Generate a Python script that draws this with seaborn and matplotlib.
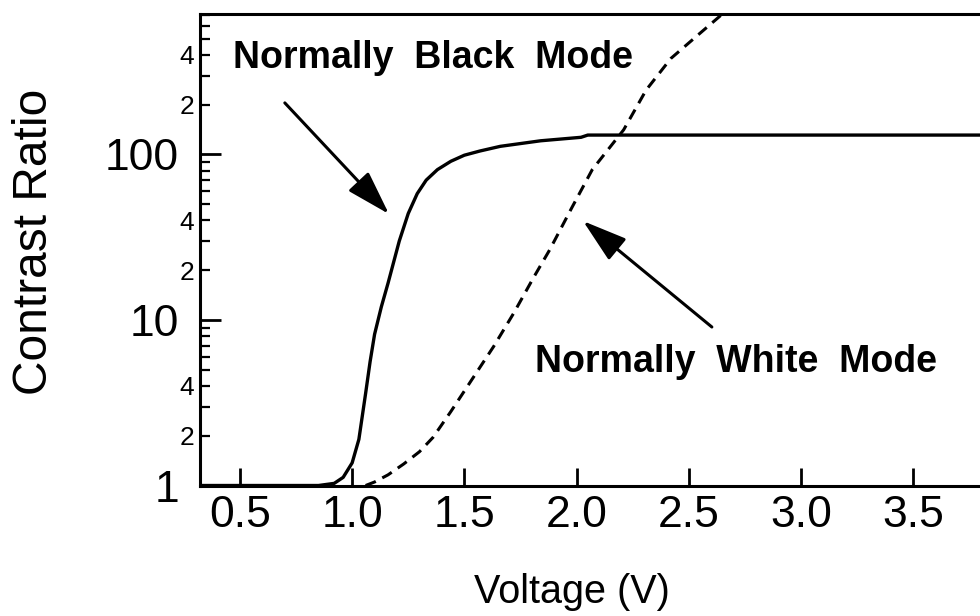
import matplotlib
matplotlib.use("Agg")
import matplotlib.pyplot as plt
from matplotlib.ticker import FixedLocator, FixedFormatter, NullLocator
import pandas as pd
import seaborn as sns

# Electro-optic response: contrast ratio vs. drive voltage
black_voltage = [0.32, 0.60, 0.85, 0.92, 0.96, 1.00, 1.03, 1.06, 1.08, 1.10,
                 1.13, 1.16, 1.21, 1.25, 1.29, 1.33, 1.38, 1.44, 1.50, 1.57,
                 1.66, 1.84, 2.02, 2.05, 2.60, 3.20, 3.90]
black_contrast = [1.0, 1.0, 1.0, 1.03, 1.12, 1.37, 1.9, 3.6, 5.6, 8.2,
                  12.0, 16.7, 30, 44, 58, 70, 81, 91, 99, 105,
                  112, 121, 127, 131, 131, 131, 131]

white_voltage = [1.06, 1.10, 1.16, 1.23, 1.30, 1.36, 1.44, 1.54, 1.63, 1.72,
                 1.81, 1.88, 1.98, 2.07, 2.21, 2.31, 2.42, 2.55, 2.65]
white_contrast = [1.0, 1.05, 1.16, 1.35, 1.6, 1.95, 2.8, 4.5, 6.9, 11.0,
                  18.2, 26.5, 48, 81, 141, 245, 380, 540, 706]

x_ticks = [0.5, 1.0, 1.5, 2.0, 2.5, 3.0, 3.5]
x_tick_labels = ["0.5", "1.0", "1.5", "2.0", "2.5", "3.0", "3.5"]
y_major = [1, 10, 100]
y_major_labels = ["1", "10", "100"]
y_minor_digits = [2, 3, 4, 5, 6, 7, 8, 9]
y_minor_labelled = {2: "2", 4: "4"}

black_df = pd.DataFrame({"Voltage": black_voltage, "Contrast": black_contrast})
white_df = pd.DataFrame({"Voltage": white_voltage, "Contrast": white_contrast})

sns.set_style("ticks")
plt.rcParams["font.family"] = ["Liberation Sans", "DejaVu Sans"]
for key in ["text.color", "axes.labelcolor", "xtick.color", "ytick.color",
            "axes.edgecolor"]:
    plt.rcParams[key] = "black"

fig = plt.figure(figsize=(9.8, 6.16), dpi=100)
ax = fig.add_axes([200 / 980, 1 - 485.5 / 616, 800 / 980, (485.5 - 14) / 616])

sns.lineplot(data=black_df, x="Voltage", y="Contrast", ax=ax, color="black",
             lw=2.4, estimator=None, sort=False)
sns.lineplot(data=white_df, x="Voltage", y="Contrast", ax=ax, color="black",
             lw=2.2, estimator=None, sort=False, linestyle=(0, (3.6, 2.4)))

ax.set_yscale("log")
ax.set_xlim(0.322, 3.887)
ax.set_ylim(1, 706)

for side in ["left", "bottom", "top"]:
    ax.spines[side].set_linewidth(2.2)
    ax.spines[side].set_color("black")
ax.spines["right"].set_visible(False)

ax.set_xticks(x_ticks)
ax.set_xticklabels(x_tick_labels)
ax.xaxis.set_minor_locator(NullLocator())
ax.tick_params(axis="x", which="major", direction="in", length=13, width=2.0,
               labelsize=32, pad=7, top=False, color="black", labelcolor="black")

ax.yaxis.set_major_locator(FixedLocator(y_major))
ax.yaxis.set_major_formatter(FixedFormatter(y_major_labels))
minor_locs, minor_labels = [], []
for decade in [1, 10, 100]:
    for d in y_minor_digits:
        v = d * decade
        if v <= 706:
            minor_locs.append(v)
            minor_labels.append(y_minor_labelled.get(d, ""))
ax.yaxis.set_minor_locator(FixedLocator(minor_locs))
ax.yaxis.set_minor_formatter(FixedFormatter(minor_labels))
ax.tick_params(axis="y", which="major", direction="in", length=15, width=2.0,
               labelsize=32, pad=15, color="black", labelcolor="black")
ax.tick_params(axis="y", which="minor", direction="in", length=7, width=1.6,
               labelsize=19, pad=4, color="black", labelcolor="black")

ax.set_xlabel("")
ax.set_ylabel("")
fig.text(35 / 980, 1 - 241.5 / 616, "Contrast Ratio", rotation=90,
         ha="center", va="center", fontsize=34.5, color="black")
fig.text(572 / 980, 1 - 603 / 616, "Voltage (V)", ha="center",
         va="baseline", fontsize=28.5, color="black")

ax.text(0.469, 333, "Normally  Black  Mode", fontsize=27, fontweight="bold",
        ha="left", va="baseline", color="black")
ax.text(1.815, 4.85, "Normally  White  Mode", fontsize=27, fontweight="bold",
        ha="left", va="baseline", color="black")

arrow_style = dict(arrowstyle="-|>,head_length=1.1,head_width=0.34",
                   mutation_scale=25, lw=2.2, color="black",
                   shrinkA=0, shrinkB=0)
ax.annotate("", xy=(1.164, 43.7), xytext=(0.70, 205), arrowprops=arrow_style)
ax.annotate("", xy=(2.029, 39.6), xytext=(2.603, 9.07), arrowprops=arrow_style)

fig.savefig("out.png", dpi=100)
